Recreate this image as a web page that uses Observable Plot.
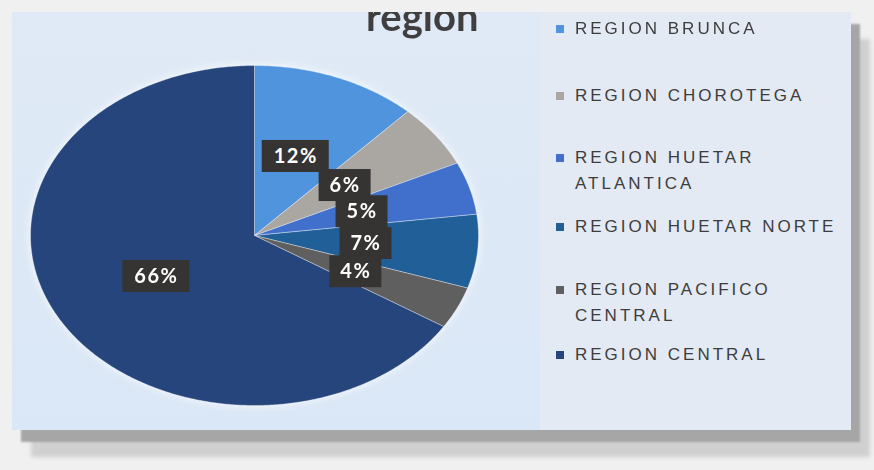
<!DOCTYPE html>
<html>
<head>
<meta charset="utf-8">
<script src="https://cdn.jsdelivr.net/npm/d3@7"></script>
<script src="https://cdn.jsdelivr.net/npm/@observablehq/plot@0.6"></script>
<style>
  html, body { margin: 0; padding: 0; background: #f0f0f0; }
  #wrap { position: relative; width: 874px; height: 470px; overflow: hidden; background: #f0f0f0; }
  #panel { position: absolute; left: 12px; top: 12px; width: 839px; height: 418px;
    background: linear-gradient(180deg, #e0eaf6 0%, #dae7f6 100%);
    box-shadow: 9px 12px 2px #a6a6a6, 19px 27px 4px #d0d0d0; overflow: hidden; }
  #legendbg { position: absolute; left: 528px; top: 0; width: 311px; height: 418px; background: #e3eaf3; }
  #title { position: absolute; left: 354px; top: -16px; font-family: Lato, sans-serif; font-weight: bold;
    font-size: 40px; line-height: 40px; color: #3f3f3f; white-space: nowrap; }
  #chart { position: absolute; left: 0; top: 0; }
  #chart svg { filter: drop-shadow(0 0 5px rgba(255,255,255,0.8)); }
  .item { position: absolute; left: 544px; width: 295px; }
  .sw { position: absolute; left: 0; width: 8px; height: 8px; }
  .lab { position: absolute; left: 19px; width: 274px; font-family: "Liberation Sans", Arial, sans-serif;
    font-size: 17px; line-height: 26px; letter-spacing: 3px; color: #3d3d3d; }
</style>
</head>
<body>
<div id="wrap">
  <div id="panel">
    <div id="legendbg"></div>
    <div id="chart"></div>
    <div id="title">region</div>
    <div id="legend"></div>
  </div>
</div>
<script>
// ---- data ----
const regions = ["REGION BRUNCA", "REGION CHOROTEGA", "REGION HUETAR ATLANTICA", "REGION HUETAR NORTE", "REGION PACIFICO CENTRAL", "REGION CENTRAL"];
const shares = [12, 6, 5, 7, 4, 66];
const percentLabels = ["12%", "6%", "5%", "7%", "4%", "66%"];
const colors = ["#4f94dd", "#aaa6a2", "#4170cc", "#215f99", "#5f5f5f", "#26457c"];

// ---- layout ----
const W = 520, H = 418, mL = 18, mR = 54, mT = 53, mB = 25;
const pxPerX = (W - mL - mR) / 2;
const pxPerY = (H - mT - mB) / 2;
const legendCenters = [17, 84, 146, 215, 278, 343];

const total = d3.sum(shares);
let cum = 0;
const arcs = regions.map((r, i) => {
  const a0 = cum / total * 2 * Math.PI; cum += shares[i];
  const a1 = cum / total * 2 * Math.PI;
  return {region: r, a0, a1, i};
});

const slicePoints = arcs.map(a => {
  const n = Math.max(2, Math.ceil((a.a1 - a.a0) / (Math.PI / 360)));
  const pts = [{x: 0, y: 0}];
  for (let k = 0; k <= n; k++) {
    const t = a.a0 + (a.a1 - a.a0) * k / n;
    pts.push({x: Math.sin(t), y: Math.cos(t)});
  }
  pts.push({x: 0, y: 0});
  return pts;
});

const labels = arcs.map((a, i) => {
  const m = (a.a0 + a.a1) / 2;
  const cx = 0.5 * Math.sin(m), cy = 0.5 * Math.cos(m);
  const hw = (percentLabels[i].length > 2 ? 33.5 : 26) / pxPerX;
  const hh = 16 / pxPerY;
  return {label: percentLabels[i], cx, cy, x1: cx - hw, x2: cx + hw, y1: cy - hh, y2: cy + hh};
});

const chart = Plot.plot({
  width: W, height: H,
  marginLeft: mL, marginRight: mR, marginTop: mT, marginBottom: mB,
  x: {domain: [-1, 1], axis: null},
  y: {domain: [-1, 1], axis: null},
  style: {background: "transparent", overflow: "visible"},
  marks: [
    ...slicePoints.map((pts, i) => Plot.line(pts, {x: "x", y: "y", fill: colors[i], stroke: "#ffffff", strokeOpacity: 0.35, strokeWidth: 1, curve: "linear"})),
    Plot.rect(labels, {x1: "x1", x2: "x2", y1: "y1", y2: "y2", fill: "#363433"}),
    Plot.text(labels, {x: "cx", y: "cy", text: "label", fill: "white", fontSize: 20, fontWeight: "bold", fontFamily: "Lato, sans-serif"})
  ]
});
chart.querySelectorAll("text").forEach(t => t.style.letterSpacing = "1.5px");
document.getElementById("chart").appendChild(chart);

const legend = document.getElementById("legend");
regions.forEach((r, i) => {
  const item = document.createElement("div");
  item.className = "item";
  item.style.top = (legendCenters[i] - 13) + "px";
  const sw = document.createElement("div");
  sw.className = "sw"; sw.style.background = colors[i]; sw.style.top = "9px";
  const lab = document.createElement("div");
  lab.className = "lab"; lab.textContent = r;
  item.appendChild(sw); item.appendChild(lab);
  legend.appendChild(item);
});
</script>
</body>
</html>
